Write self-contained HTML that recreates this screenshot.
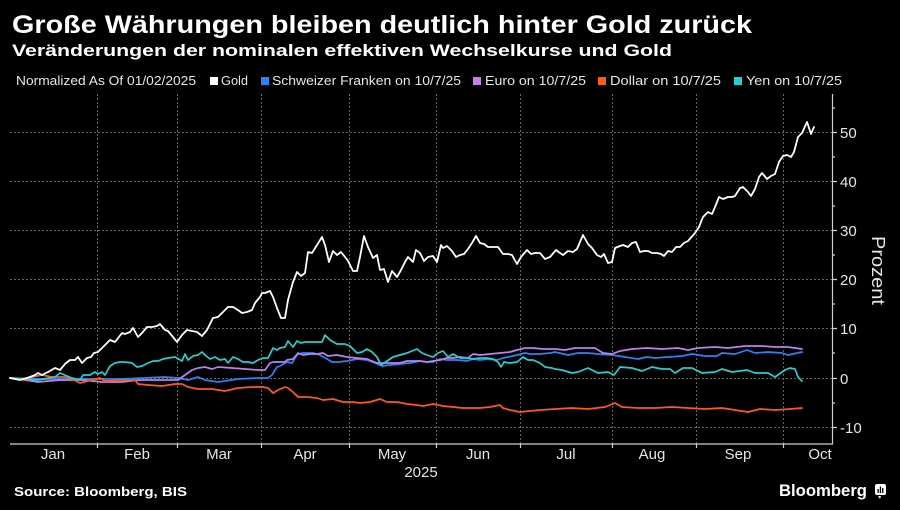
<!DOCTYPE html>
<html><head><meta charset="utf-8"><style>
html,body{margin:0;padding:0;background:#000;}
svg{display:block;font-family:"Liberation Sans",sans-serif;}
</style></head><body>
<svg width="900" height="510" viewBox="0 0 900 510" xmlns="http://www.w3.org/2000/svg">
<rect width="900" height="510" fill="#000"/>
<text x="12" y="33" fill="#fff" font-size="25" font-weight="bold" textLength="740" lengthAdjust="spacingAndGlyphs">Große Währungen bleiben deutlich hinter Gold zurück</text>
<text x="12" y="56" fill="#fff" font-size="17" font-weight="bold" textLength="660" lengthAdjust="spacingAndGlyphs">Veränderungen der nominalen effektiven Wechselkurse und Gold</text>
<g font-size="13" fill="#e6e6e6">
<text x="16" y="85" textLength="180" lengthAdjust="spacingAndGlyphs">Normalized As Of 01/02/2025</text>
<rect x="210" y="77" width="8" height="8" fill="#fff"/>
<text x="221" y="85" textLength="27" lengthAdjust="spacingAndGlyphs">Gold</text>
<rect x="261" y="77" width="8" height="8" fill="#2b83f6"/>
<text x="272" y="85" textLength="189" lengthAdjust="spacingAndGlyphs">Schweizer Franken on 10/7/25</text>
<rect x="473" y="77" width="8" height="8" fill="#c27ff0"/>
<text x="485" y="85" textLength="101" lengthAdjust="spacingAndGlyphs">Euro on 10/7/25</text>
<rect x="598" y="77" width="8" height="8" fill="#ff5b14"/>
<text x="610" y="85" textLength="111" lengthAdjust="spacingAndGlyphs">Dollar on 10/7/25</text>
<rect x="734" y="77" width="8" height="8" fill="#25d0d0"/>
<text x="746" y="85" textLength="96" lengthAdjust="spacingAndGlyphs">Yen on 10/7/25</text>
</g>
<g stroke="#666" stroke-width="1" stroke-dasharray="2,2" fill="none">
<line x1="10" y1="132.5" x2="832" y2="132.5"/>
<line x1="10" y1="181.5" x2="832" y2="181.5"/>
<line x1="10" y1="230.5" x2="832" y2="230.5"/>
<line x1="10" y1="279.5" x2="832" y2="279.5"/>
<line x1="10" y1="328.5" x2="832" y2="328.5"/>
<line x1="10" y1="378.5" x2="832" y2="378.5"/>
<line x1="10" y1="427.5" x2="832" y2="427.5"/>
<line x1="97.5" y1="94" x2="97.5" y2="444"/>
<line x1="177.5" y1="94" x2="177.5" y2="444"/>
<line x1="261.5" y1="94" x2="261.5" y2="444"/>
<line x1="349.5" y1="94" x2="349.5" y2="444"/>
<line x1="436.5" y1="94" x2="436.5" y2="444"/>
<line x1="520.5" y1="94" x2="520.5" y2="444"/>
<line x1="612.5" y1="94" x2="612.5" y2="444"/>
<line x1="696.5" y1="94" x2="696.5" y2="444"/>
<line x1="783.5" y1="94" x2="783.5" y2="444"/>
</g>
<g stroke="#cfcfcf" stroke-width="1.2" fill="none">
<line x1="10" y1="444" x2="833" y2="444"/>
<line x1="832.5" y1="94" x2="832.5" y2="444"/>
<path d="M97.5 444v4M177.5 444v4M261.5 444v4M349.5 444v4M436.5 444v4M520.5 444v4M612.5 444v4M696.5 444v4M783.5 444v4"/>
<path d="M832 132.5h5M832 181.5h5M832 230.5h5M832 279.5h5M832 328.5h5M832 378.5h5M832 427.5h5"/>
<path d="M832 108h3M832 157h3M832 206h3M832 255h3M832 304h3M832 353h3M832 403h3"/>
</g>
<g font-size="15" fill="#e6e6e6">
<text x="840" y="138">50</text>
<text x="840" y="187">40</text>
<text x="840" y="236">30</text>
<text x="840" y="285">20</text>
<text x="840" y="334">10</text>
<text x="840" y="384">0</text>
<text x="840" y="433">-10</text>
</g>
<text transform="translate(872,236) rotate(90)" font-size="18" fill="#e6e6e6" textLength="69" lengthAdjust="spacingAndGlyphs">Prozent</text>
<g font-size="15" fill="#e6e6e6" text-anchor="middle">
<text x="53" y="459">Jan</text>
<text x="137" y="459">Feb</text>
<text x="219" y="459">Mar</text>
<text x="305" y="459">Apr</text>
<text x="392" y="459">May</text>
<text x="478" y="459">Jun</text>
<text x="566" y="459">Jul</text>
<text x="652" y="459">Aug</text>
<text x="738" y="459">Sep</text>
<text x="820" y="459">Oct</text>
<text x="421" y="477">2025</text>
</g>
<g fill="none" stroke-width="1.7" stroke-linejoin="round" stroke-linecap="round">
<polyline stroke="#2b83f6" points="10,378 40,379 80,379 120,379 165,377 178,378 188,380 198,377 205,380 218,382 238,379 258,378 268,378 272,375 277,367 280,366 287,362 292,363 297,355 302,353 307,353 313,353 320,355 327,359 332,362 338,362 347,361 357,359 367,360 375,363 382,366 390,365 400,364 410,363 420,361 427,362 433,362 440,359 447,360 457,360 467,361 473,359 480,360 487,359 497,360 503,358 513,356 525,353 530,354 540,354 550,353 555,352 568,355 578,353 588,353 598,354 612,355 625,357 638,359 647,357 655,358 668,357 682,356 692,354 705,356 717,356 722,353 735,354 747,350 755,353 768,352 782,353 788,355 802,352"/>
<polyline stroke="#c27ff0" points="10,378 25,380 38,382 60,380 82,380 102,382 122,382 138,380 160,380 178,380 185,375 192,370 198,368 205,367 212,369 218,367 232,368 245,369 258,370 265,370 270,363 273,362 285,362 287,360 293,359 298,353 303,355 310,354 317,354 323,353 328,356 337,355 347,357 357,358 367,359 377,363 382,363 390,363 400,363 407,361 413,361 420,361 427,362 433,361 440,360 447,358 453,358 460,357 468,358 473,354 480,355 490,354 500,353 510,352 517,350 525,348 533,348 543,349 552,349 555,349 565,350 575,348 585,348 595,348 603,353 612,354 620,351 632,349 647,348 662,349 678,348 688,350 698,348 715,347 728,348 745,346 762,346 775,347 788,347 802,349"/>
<polyline stroke="#ff5b14" points="10,378 25,380 32,377 42,375 52,377 65,377 72,379 80,383 92,380 100,378 105,381 122,380 135,380 138,384 148,385 162,386 175,384 182,384 188,387 198,389 212,389 225,391 238,388 252,387 263,387 268,388 273,393 278,390 285,387 288,388 293,392 298,397 307,397 317,398 323,400 333,399 343,402 353,402 360,403 370,402 380,399 387,402 397,402 407,404 417,405 423,406 433,404 443,406 453,407 463,408 470,408 480,408 490,407 500,405 503,408 510,410 520,412 530,411 540,410 555,409 572,408 588,409 605,407 615,403 622,407 638,408 655,408 672,407 688,408 705,409 722,408 735,410 748,412 760,409 775,410 790,409 802,408"/>
<polyline stroke="#25d0d0" points="10,378 25,379 38,380 55,377 60,373 67,376 72,378 80,380 83,375 90,375 95,372 98,374 102,372 105,375 110,366 115,363 120,362 125,362 132,363 137,367 142,366 148,363 153,361 158,361 163,359 168,358 175,357 182,361 185,354 188,360 193,356 198,355 202,352 205,355 210,359 215,357 220,360 225,359 228,363 233,357 238,359 243,362 248,362 253,363 258,360 263,358 268,358 273,348 277,350 280,348 285,347 288,341 293,347 297,341 301,343 305,342 313,342 322,342 325,335 330,340 337,344 345,344 350,346 357,353 362,352 367,349 372,352 377,357 381,365 387,361 393,357 400,355 407,353 412,351 417,349 422,353 427,355 433,357 438,353 443,351 448,357 453,354 460,358 467,358 473,359 480,358 487,358 493,359 498,362 501,367 504,362 510,363 517,362 523,357 528,360 533,360 540,363 545,367 552,368 555,369 562,370 572,373 578,372 588,368 598,373 608,372 614,375 620,367 632,368 642,371 652,367 662,369 670,369 675,373 683,368 692,368 702,373 715,372 722,369 732,372 747,370 755,373 768,373 775,377 785,370 790,368 795,369 798,377 802,381"/>
<polyline stroke="#ffffff" stroke-width="1.8" points="10,378 20,380 30,377 35,375 38,373 42,375 48,372 55,368 60,370 65,364 70,360 75,360 78,357 82,363 87,358 91,357 94,353 98,352 105,345 110,340 115,342 122,333 125,334 130,332 133,328 138,337 142,333 147,327 152,327 157,326 160,324 165,330 168,331 173,337 177,342 182,335 187,330 192,331 197,332 202,336 207,330 213,318 218,317 223,312 228,307 233,307 238,310 242,313 247,312 252,310 255,303 260,297 262,293 265,293 270,291 273,297 277,308 281,318 285,318 288,300 293,282 297,272 301,276 305,273 308,252 312,253 317,245 322,237 325,245 329,262 333,251 337,255 341,252 345,257 348,261 353,271 357,271 360,257 364,236 368,247 373,258 377,255 380,270 384,269 388,282 392,271 397,277 401,270 405,262 408,257 413,262 416,250 420,253 424,261 428,257 433,256 437,262 441,245 443,248 447,246 452,251 456,257 460,255 464,254 468,249 472,243 476,236 480,243 484,244 488,247 493,247 498,247 503,254 508,254 512,255 517,264 521,257 527,250 531,254 535,253 540,253 545,259 550,257 556,250 560,253 563,255 568,251 573,252 577,249 580,242 583,235 588,244 592,248 597,255 601,257 604,254 608,263 612,262 615,248 620,246 623,245 628,247 632,243 636,242 640,252 644,251 648,251 652,253 657,253 661,254 664,256 668,251 672,252 676,247 680,247 684,243 688,241 695,233 699,227 703,217 708,212 712,214 715,207 719,197 723,199 728,197 732,197 735,196 740,188 743,187 748,192 751,196 755,189 759,177 762,173 767,179 771,176 775,174 779,162 783,156 787,155 791,157 794,152 798,137 802,133 807,122 811,134 814,127"/>
</g>
<text x="14" y="496" fill="#fff" font-size="13" font-weight="bold" textLength="173" lengthAdjust="spacingAndGlyphs">Source: Bloomberg, BIS</text>
<text x="779" y="496" fill="#fff" font-size="17" font-weight="bold" textLength="88" lengthAdjust="spacingAndGlyphs">Bloomberg</text>
<g>
<rect x="875" y="484" width="11" height="11" rx="2" fill="#fff"/>
<path d="M878 496 l2 3 l1 -3z" fill="#fff"/>
<rect x="877.5" y="489" width="1.3" height="4" fill="#000"/>
<rect x="879.8" y="486.5" width="1.3" height="6.5" fill="#000"/>
<rect x="882.1" y="488" width="1.3" height="5" fill="#000"/>
</g>
</svg>
</body></html>
